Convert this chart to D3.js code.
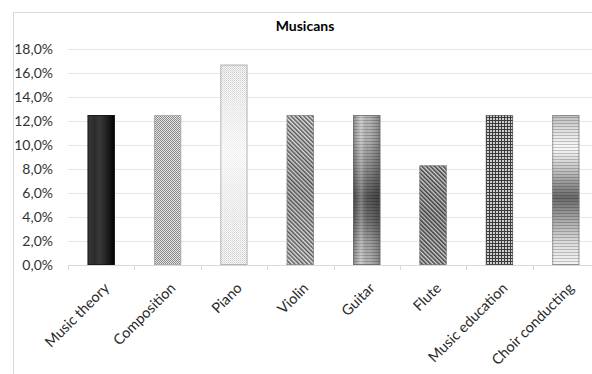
<!DOCTYPE html>
<html>
<head>
<meta charset="utf-8">
<script src="https://cdn.jsdelivr.net/npm/d3@7"></script>
<style>
  html, body { margin: 0; padding: 0; background: #fff; }
  svg { display: block; font-family: Lato, "Open Sans", sans-serif; }
</style>
</head>
<body>
<svg id="chart" width="592" height="374"></svg>
<script>
// Share of musicians by field
const categories = ["Music theory", "Composition", "Piano", "Violin", "Guitar", "Flute", "Music education", "Choir conducting"];
const shares = [12.5, 12.5, 16.7, 12.5, 12.5, 8.3, 12.5, 12.5];
const yTicks = [0, 2, 4, 6, 8, 10, 12, 14, 16, 18];
const chartTitle = "Musicans";

const svg = d3.select("#chart");
const defs = svg.append("defs");

const x = d3.scaleBand().domain(categories).range([68, 599]).paddingInner(0.59).paddingOuter(0.295);
const y = d3.scaleLinear().domain([0, 18]).range([265, 49]);

// ---- fills for each bar ----
function linGrad(id, x2, y2, stops) {
  const g = defs.append("linearGradient").attr("id", id)
    .attr("x1", 0).attr("y1", 0).attr("x2", x2).attr("y2", y2);
  stops.forEach(s => g.append("stop").attr("offset", s[0]).attr("stop-color", s[1]).attr("stop-opacity", s[2] == null ? 1 : s[2]));
}
function pattern(id, w, h, draw, transform) {
  const p = defs.append("pattern").attr("id", id).attr("patternUnits", "userSpaceOnUse")
    .attr("width", w).attr("height", h);
  if (transform) p.attr("patternTransform", transform);
  draw(p);
}

// dark bar: vertical streaks darkening to the right
linGrad("gTheory", 1, 0, [[0, "#3a3a3a"], [0.25, "#2c2c2c"], [0.45, "#383838"], [0.7, "#222"], [0.9, "#0c0c0c"], [1, "#000"]]);

// fine checker dots
pattern("pComposition", 2, 2, p => {
  p.append("rect").attr("width", 2).attr("height", 2).attr("fill", "#e2e2e2");
  p.append("rect").attr("width", 1).attr("height", 1).attr("fill", "#8c8c8c");
  p.append("rect").attr("x", 1).attr("y", 1).attr("width", 1).attr("height", 1).attr("fill", "#8c8c8c");
});
pattern("pPiano", 2, 2, p => {
  p.append("rect").attr("width", 2).attr("height", 2).attr("fill", "#f6f6f6");
  p.append("rect").attr("width", 1).attr("height", 1).attr("fill", "#c4c4c4");
  p.append("rect").attr("x", 1).attr("y", 1).attr("width", 1).attr("height", 1).attr("fill", "#d4d4d4");
});
linGrad("gPianoWash", 0, 1, [[0, "#fff", 0.1], [0.45, "#fff", 0.75], [0.6, "#fff", 0.5], [1, "#fff", 0.2]]);

// diagonal hatches
pattern("pViolin", 3, 3, p => {
  p.append("rect").attr("width", 3).attr("height", 3).attr("fill", "#e8e8e8");
  p.append("rect").attr("width", 1.5).attr("height", 3).attr("fill", "#555");
}, "rotate(-45)");
pattern("pFlute", 3, 3, p => {
  p.append("rect").attr("width", 3).attr("height", 3).attr("fill", "#dcdcdc");
  p.append("rect").attr("width", 1.6).attr("height", 3).attr("fill", "#444");
}, "rotate(-45)");
linGrad("gHatchShade", 0, 1, [[0, "#000", 0], [0.5, "#000", 0.12], [1, "#000", 0]]);

// horizontal banding
linGrad("gGuitar", 0, 1, [[0, "#c0c0c0"], [0.15, "#bcbcbc"], [0.35, "#929292"], [0.55, "#5a5a5a"], [0.7, "#747474"], [0.85, "#a8a8a8"], [1, "#c0c0c0"]]);
linGrad("gGuitarEdge", 1, 0, [[0, "#000", 0.25], [0.3, "#fff", 0.25], [0.6, "#000", 0.05], [1, "#000", 0.3]]);
linGrad("gChoir", 0, 1, [[0, "#bdbdbd"], [0.12, "#e4e4e4"], [0.22, "#f8f8f8"], [0.38, "#bdbdbd"], [0.55, "#6a6a6a"], [0.7, "#a8a8a8"], [0.85, "#dcdcdc"], [1, "#f4f4f4"]]);
pattern("pBands", 4, 3, p => {
  p.append("rect").attr("y", 0).attr("width", 4).attr("height", 1).attr("fill", "#000").attr("fill-opacity", 0.2);
});

// small grid
pattern("pEducation", 3, 3, p => {
  p.append("rect").attr("width", 3).attr("height", 3).attr("fill", "#3a3a3a");
  p.append("rect").attr("x", 1).attr("y", 1).attr("width", 2).attr("height", 2).attr("fill", "#cfcfcf");
});

const barFills = [
  ["url(#gTheory)"],
  ["url(#pComposition)"],
  ["url(#pPiano)", "url(#gPianoWash)"],
  ["url(#pViolin)", "url(#gHatchShade)"],
  ["url(#gGuitar)", "url(#pBands)", "url(#gGuitarEdge)"],
  ["url(#pFlute)", "url(#gHatchShade)"],
  ["url(#pEducation)"],
  ["url(#gChoir)", "url(#pBands)"]
];
const barStrokes = ["#111", "#aaa", "#a0a0a0", "#888", "#666", "#777", "#555", "#777"];

// ---- frame ----
svg.append("rect").attr("x", 13.5).attr("y", 12.5).attr("width", 600).attr("height", 400)
  .attr("fill", "#fff").attr("stroke", "#d9d9d9");

// ---- title ----
svg.append("text").attr("x", 305).attr("y", 31).attr("text-anchor", "middle")
  .attr("font-size", 14).attr("font-weight", "bold").attr("fill", "#000").text(chartTitle);

// ---- gridlines + y axis ----
const fmt = v => d3.format(".1f")(v).replace(".", ",") + "%";
const yAxis = d3.axisLeft(y).tickValues(yTicks).tickFormat(fmt).tickSize(0).tickPadding(0);
const gy = svg.append("g").attr("transform", "translate(53,0)").call(yAxis);
gy.select(".domain").remove();
gy.selectAll("text").attr("font-size", 14).attr("fill", "#333").attr("font-family", "Lato, sans-serif");

svg.append("g").selectAll("line").data(yTicks.filter(d => d > 0)).join("line")
  .attr("x1", 68).attr("x2", 600)
  .attr("y1", d => Math.round(y(d)) + 0.5).attr("y2", d => Math.round(y(d)) + 0.5)
  .attr("stroke", "#e6e6e6").attr("stroke-width", 1);

// ---- bars ----
const bars = svg.append("g").selectAll("g").data(categories).join("g");
bars.each(function (c, i) {
  const g = d3.select(this);
  const bx = x(c), bw = x.bandwidth(), by = y(shares[i]), bh = y(0) - y(shares[i]);
  barFills[i].forEach(f => g.append("rect").attr("x", bx).attr("y", by).attr("width", bw).attr("height", bh).attr("fill", f));
  g.append("rect").attr("x", bx + 0.5).attr("y", by + 0.5).attr("width", bw - 1).attr("height", bh - 1)
    .attr("fill", "none").attr("stroke", barStrokes[i]).attr("stroke-opacity", 0.7);
});

// ---- x axis ----
const xAxis = d3.axisBottom(x).tickSize(0).tickPadding(0);
const gx = svg.append("g").attr("transform", `translate(0,${y(0)})`).call(xAxis);
gx.select(".domain").remove();
gx.selectAll(".tick text").remove();
svg.append("line").attr("x1", 68).attr("x2", 600).attr("y1", y(0) + 0.5).attr("y2", y(0) + 0.5).attr("stroke", "#d9d9d9");
const bounds = categories.map(c => x(c) - x.step() * x.paddingInner() / 2).concat([x(categories[categories.length - 1]) + x.bandwidth() + x.step() * x.paddingInner() / 2]);
svg.append("g").selectAll("line").data(bounds).join("line")
  .attr("x1", d => Math.round(d) + 0.5).attr("x2", d => Math.round(d) + 0.5)
  .attr("y1", y(0)).attr("y2", y(0) + 5).attr("stroke", "#d9d9d9");

svg.append("g").selectAll("text").data(categories).join("text")
  .attr("transform", c => `translate(${x(c) + x.bandwidth() / 2 + 9},${y(0) + 24}) rotate(-45)`)
  .attr("text-anchor", "end")
  .attr("font-size", 14.5).attr("fill", "#2a2a2a")
  .text(c => c);
</script>
</body>
</html>
